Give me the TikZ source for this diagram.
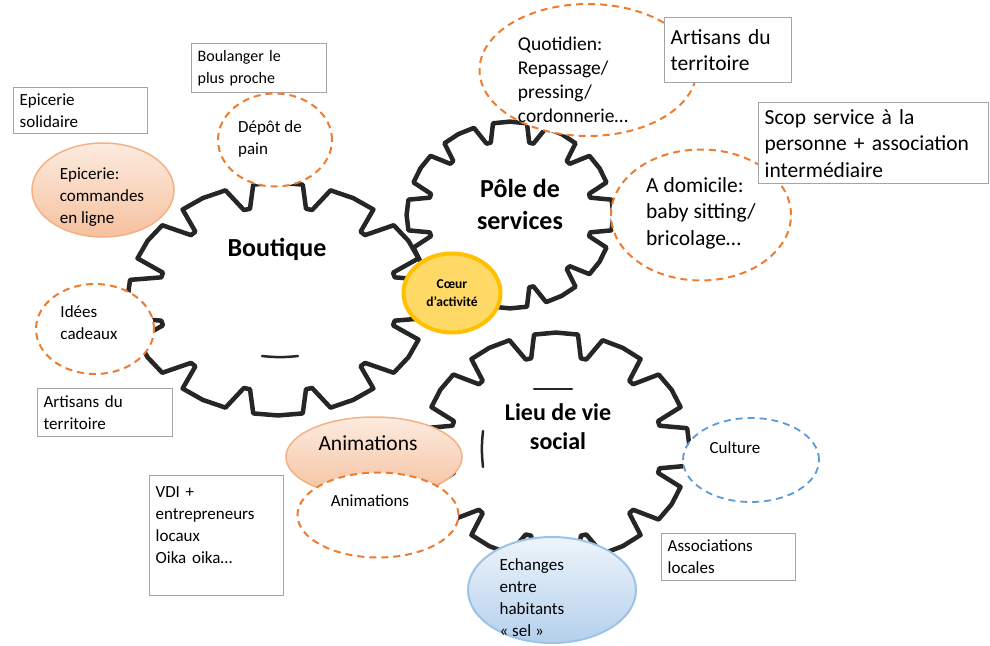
\documentclass[tikz,border=0pt]{standalone}
\usepackage{fontspec}
\setmainfont{Carlito}
\usetikzlibrary{shapes.geometric}
\definecolor{gearcol}{HTML}{262626}
\definecolor{boxgray}{HTML}{A5A5A5}
\definecolor{orangedash}{HTML}{ED7D31}
\definecolor{peachline}{HTML}{F4B183}
\definecolor{peachtop}{HTML}{FCEBDF}
\definecolor{peachbot}{HTML}{F6C19F}
\definecolor{bluedash}{HTML}{5B9BD5}
\definecolor{blueline}{HTML}{9DC3E6}
\definecolor{bluetop}{HTML}{EEF4FB}
\definecolor{bluebot}{HTML}{B4D0EC}
\definecolor{coeurline}{HTML}{FFC000}
\definecolor{coeurfill}{HTML}{FFD966}

\newcommand{\drawgear}[4]{%
  \begin{scope}[shift={(#1,#2)}, x=#3pt, y=#4pt]
    \filldraw[gearline] (-13.5:0.8) \foreach \a in {0,30,...,330} {
      -- ({\a-13.5}:0.8) -- ({\a-9.5}:1) -- (\a:1.004) -- ({\a+9.5}:1) -- ({\a+13.5}:0.8)
    } -- cycle;
  \end{scope}}

\begin{document}
\begin{tikzpicture}[x=1pt, y=-1pt,
  gearline/.style={draw=gearcol, fill=white, line width=4.5pt, line join=round},
  holeline/.style={draw=gearcol, line width=2.5pt, line cap=round},
  smalltxt/.style={font=\fontsize{17}{22}\selectfont},
  bigtxt/.style={font=\fontsize{21.5}{26.5}\selectfont},
  txtbox/.style={draw=boxgray, fill=white, line width=1.3pt, anchor=north west, align=left, inner sep=6pt},
  dashell/.style={ellipse, draw=orangedash, fill=white, line width=2pt, dash pattern=on 7pt off 5pt, inner sep=0pt},
  peachell/.style={ellipse, draw=peachline, line width=1.5pt, top color=peachtop, bottom color=peachbot, inner sep=0pt},
  blueell/.style={ellipse, draw=bluedash, fill=white, line width=1.8pt, dash pattern=on 7pt off 5pt, inner sep=0pt},
  txt/.style={inner sep=0pt, align=left},
  geartxt/.style={inner sep=0pt, align=center, font=\bfseries\fontsize{26}{32}\selectfont}]

\useasboundingbox (0,0) rectangle (990,645);

\drawgear{278}{299}{150}{116}
\drawgear{510}{215}{103}{93}
\drawgear{556}{447}{133}{114}

\draw[holeline] (262,356) to[bend right=6] (298,356);
\draw[holeline] (534,389) -- (572,389);
\draw[holeline] (483,431) to[bend right=6] (483,467);

\node[geartxt] (bout) at (277,249) {Boutique};
\node[geartxt] (pole) at (520,204) {Pôle de\\services};
\node[geartxt, font=\bfseries\fontsize{24}{29}\selectfont] (lieu) at (558,427) {Lieu de vie\\social};

\node[txtbox, font=\fontsize{16}{22}\selectfont, text width=123pt, minimum height=49pt] (boul) at (191,43) {Boulanger le\\plus proche};
\node[txtbox, smalltxt, text width=122pt, minimum height=46pt] (episol) at (13,87) {Epicerie\\solidaire};
\node[txtbox, smalltxt, text width=123pt, minimum height=48pt] (artg) at (37,388) {Artisans du\\territoire};
\node[txtbox, smalltxt, text width=122pt, minimum height=120pt] (vdi) at (149,475) {VDI +\\entrepreneurs\\locaux\\Oika oika…\\\mbox{}};
\node[txtbox, smalltxt, text width=122pt, minimum height=47pt] (assoc) at (661,533) {Associations\\locales};

\node[dashell, minimum width=114pt, minimum height=93pt] (depot) at (275,140) {};
\node[txt, smalltxt] (depott) at (270,139) {Dépôt de\\pain};
\node[peachell, minimum width=142pt, minimum height=94pt] (epic) at (103,190) {};
\node[txt, smalltxt] (epict) at (102,197) {Epicerie:\\commandes\\en ligne};
\node[dashell, minimum width=118pt, minimum height=90pt] (idees) at (95,329) {};
\node[txt, smalltxt] (ideest) at (89,323) {Idées\\cadeaux};

\node[dashell, minimum width=217pt, minimum height=132pt] (quot) at (588,70) {};
\node[txt, font=\fontsize{19.5}{24}\selectfont] (quott) at (573,80) {Quotidien:\\Repassage/\\pressing/\\cordonnerie…};
\node[dashell, minimum width=180pt, minimum height=131pt] (dom) at (701,215) {};
\node[txt, bigtxt] (domt) at (701,213) {A domicile:\\baby sitting/\\bricolage…};

\node[ellipse, draw=coeurline, fill=coeurfill, line width=4pt, minimum width=97pt, minimum height=79pt, inner sep=0pt, align=center, font=\bfseries\fontsize{13.5}{18}\selectfont] (coeur) at (452,293) {Cœur\\d’activité};

\node[peachell, minimum width=176pt, minimum height=80pt] (anim) at (374,457) {};
\node[txt, bigtxt] (animt) at (368,443) {Animations};
\node[dashell, minimum width=161pt, minimum height=85pt] (anim2) at (378,515) {};
\node[txt, smalltxt] (anim2t) at (370,501) {Animations};

\node[blueell, minimum width=136pt, minimum height=84pt] (cult) at (751,460) {};
\node[txt, smalltxt] (cultt) at (735,448) {Culture};

\node[ellipse, draw=blueline, line width=2pt, top color=bluetop, bottom color=bluebot, minimum width=168pt, minimum height=106pt, inner sep=0pt] (ech) at (552,590) {};
\node[txt, smalltxt] (echt) at (532,598) {Echanges\\entre\\habitants\\«~sel~»};

\node[txtbox, bigtxt, text width=115pt, minimum height=65pt] (artd) at (664,17) {Artisans du\\territoire};
\node[txtbox, bigtxt, text width=218pt, minimum height=81pt] (scop) at (758,102) {Scop service à la\\personne + association\\intermédiaire};

\end{tikzpicture}
\end{document}
